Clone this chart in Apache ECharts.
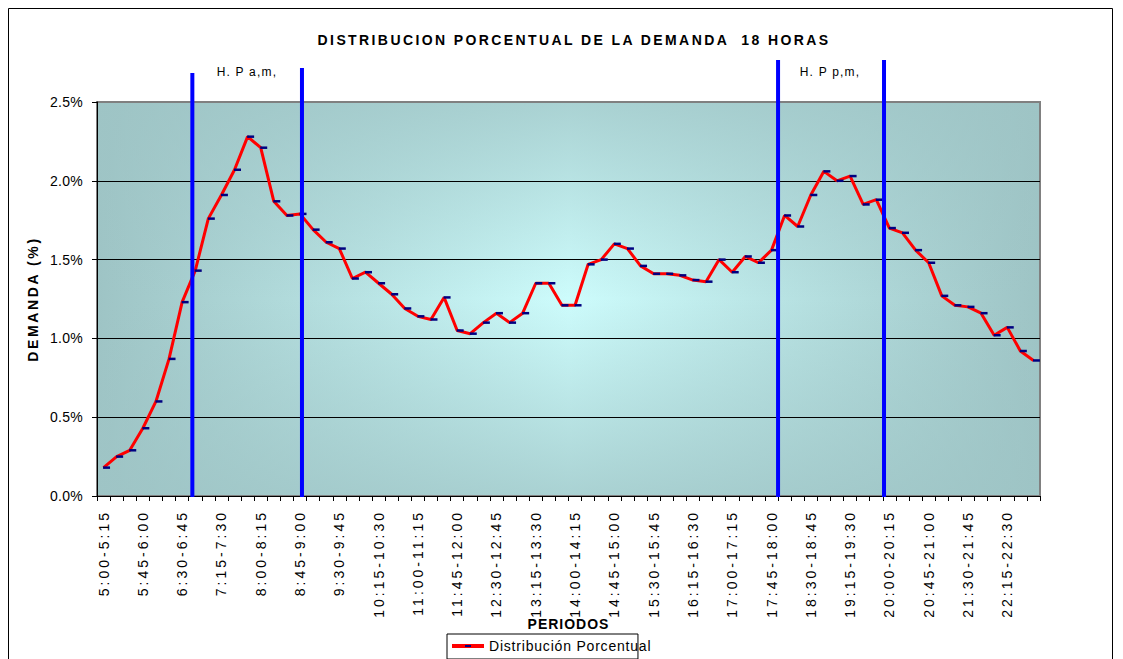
<!DOCTYPE html>
<html><head><meta charset="utf-8">
<script src="https://cdn.jsdelivr.net/npm/echarts@6/dist/echarts.min.js"></script>
<style>html,body{margin:0;padding:0;background:#fff}#c{width:1123px;height:659px}</style>
</head><body><div id="c"></div>
<script>
const titleText = 'DISTRIBUCION PORCENTUAL DE LA DEMANDA  18 HORAS';
const xName = 'PERIODOS';
const yName = 'DEMANDA (%)';
const seriesName = 'Distribución Porcentual';

const categories = [
 '5:00-5:15','5:15-5:30','5:30-5:45','5:45-6:00','6:00-6:15','6:15-6:30','6:30-6:45','6:45-7:00',
 '7:00-7:15','7:15-7:30','7:30-7:45','7:45-8:00','8:00-8:15','8:15-8:30','8:30-8:45','8:45-9:00',
 '9:00-9:15','9:15-9:30','9:30-9:45','9:45-10:00','10:00-10:15','10:15-10:30','10:30-10:45','10:45-11:00',
 '11:00-11:15','11:15-11:30','11:30-11:45','11:45-12:00','12:00-12:15','12:15-12:30','12:30-12:45','12:45-13:00',
 '13:00-13:15','13:15-13:30','13:30-13:45','13:45-14:00','14:00-14:15','14:15-14:30','14:30-14:45','14:45-15:00',
 '15:00-15:15','15:15-15:30','15:30-15:45','15:45-16:00','16:00-16:15','16:15-16:30','16:30-16:45','16:45-17:00',
 '17:00-17:15','17:15-17:30','17:30-17:45','17:45-18:00','18:00-18:15','18:15-18:30','18:30-18:45','18:45-19:00',
 '19:00-19:15','19:15-19:30','19:30-19:45','19:45-20:00','20:00-20:15','20:15-20:30','20:30-20:45','20:45-21:00',
 '21:00-21:15','21:15-21:30','21:30-21:45','21:45-22:00','22:00-22:15','22:15-22:30','22:30-22:45','22:45-23:00'
];

const demanda = [
 0.18,0.25,0.29,0.43,0.60,0.87,1.23,1.43,
 1.76,1.91,2.07,2.28,2.21,1.87,1.78,1.79,
 1.69,1.61,1.57,1.38,1.42,1.35,1.28,1.19,
 1.14,1.12,1.26,1.05,1.03,1.10,1.16,1.10,
 1.16,1.35,1.35,1.21,1.21,1.47,1.50,1.60,
 1.57,1.46,1.41,1.41,1.40,1.37,1.36,1.50,
 1.42,1.52,1.48,1.56,1.78,1.71,1.91,2.06,
 2.00,2.03,1.85,1.88,1.70,1.67,1.56,1.48,
 1.27,1.21,1.20,1.16,1.02,1.07,0.92,0.86
];

// peak-hour markers (position in category units, top in %)
const peakLineX = [7.28, 15.65, 52.0, 60.09];
const peakLineTop = [2.684, 2.716, 2.766, 2.766];
const peakLabels = ['H. P a,m,', 'H. P p,m,'];
const peakLabelX = [11.45, 55.97];
const peakLabelY = [2.69, 2.69];

const yMin = 0, yMax = 2.5, yStep = 0.5;

const FONT = "'Liberation Sans', Arial, sans-serif";
const dark = '#9ec4c5', light = '#cdfcfc';

const chart = echarts.init(document.getElementById('c'), null, {renderer: 'svg'});

const legendIcon = 'image://data:image/svg+xml;utf8,' + encodeURIComponent(
  "<svg xmlns='http://www.w3.org/2000/svg' width='32' height='6'><rect x='0' y='1' width='32' height='4' fill='#ff0000'/><rect x='13' y='2' width='6' height='2' fill='#000080'/></svg>");

chart.setOption({
  animation: false,
  textStyle: {fontFamily: FONT, color: '#000'},
  title: {
    text: titleText, left: 574, top: 33, padding: 0, textAlign: 'center',
    textStyle: {fontFamily: FONT, fontSize: 14, fontWeight: 'bold', color: '#000'}
  },
  graphic: [{
    type: 'rect', left: 8, top: 8, z: -10, silent: true,
    shape: {width: 1104, height: 700},
    style: {fill: '#fff', stroke: '#000', lineWidth: 1}
  }],
  legend: {
    left: 447, top: 634, padding: [5, 5, 6, 5],
    backgroundColor: '#fff', borderColor: '#000', borderWidth: 1,
    itemWidth: 32, itemHeight: 6, itemGap: 4,
    data: [{name: seriesName, icon: legendIcon}],
    textStyle: {fontFamily: FONT, fontSize: 14, color: '#000', padding: [0, 0, 0, 0]}
  },
  grid: [
    {left: 97, top: 102, width: 943, height: 394, show: true, borderWidth: 0,
     backgroundColor: {type: 'linear', x: 0, y: 0, x2: 1, y2: 0,
       colorStops: [{offset: 0, color: dark}, {offset: 0.5, color: light}, {offset: 1, color: dark}]}},
    {left: 97, top: 102, width: 943, height: 394, show: true, borderColor: '#808080', borderWidth: 2,
     backgroundColor: {type: 'linear', x: 0, y: 0, x2: 0, y2: 1,
       colorStops: [{offset: 0, color: 'rgba(158,196,197,0.75)'}, {offset: 0.5, color: 'rgba(158,196,197,0)'}, {offset: 1, color: 'rgba(158,196,197,0.75)'}]}}
  ],
  xAxis: [{
    type: 'category', gridIndex: 0, data: categories, boundaryGap: true,
    name: xName, nameLocation: 'middle', nameGap: 121,
    nameTextStyle: {fontFamily: FONT, fontSize: 14, fontWeight: 'bold', color: '#000', lineHeight: 14},
    axisLine: {lineStyle: {color: '#000', width: 1}},
    axisTick: {show: true, interval: 0, length: 5, lineStyle: {color: '#000'}},
    axisLabel: {interval: 2, rotate: 90, margin: 14, fontSize: 14, color: '#000', fontFamily: FONT},
    splitLine: {show: false}
  }, {
    type: 'value', gridIndex: 1, min: 0, max: categories.length, show: false
  }],
  yAxis: [{
    type: 'value', gridIndex: 0, min: yMin, max: yMax, interval: yStep,
    name: yName, nameLocation: 'middle', nameGap: 57, nameRotate: 90,
    nameTextStyle: {fontFamily: FONT, fontSize: 14, fontWeight: 'bold', color: '#000'},
    axisLine: {show: true, lineStyle: {color: '#000', width: 1}},
    axisTick: {show: true, length: 5, lineStyle: {color: '#000'}},
    axisLabel: {margin: 14, fontSize: 14, color: '#000', fontFamily: FONT,
      formatter: v => v.toFixed(1) + '%'},
    splitLine: {show: true, showMaxLine: false, lineStyle: {color: '#000', width: 1}}
  }, {
    type: 'value', gridIndex: 1, min: yMin, max: yMax, show: false
  }],
  series: [{
    name: seriesName, type: 'line', xAxisIndex: 0, yAxisIndex: 0, data: demanda,
    lineStyle: {color: '#ff0000', width: 3},
    itemStyle: {color: '#000080', borderWidth: 0},
    symbol: 'rect', symbolSize: [7, 2.5], symbolOffset: [3, 0], showAllSymbol: true,
    z: 3
  }, {
    type: 'custom', xAxisIndex: 1, yAxisIndex: 1, clip: false, z: 5, silent: true,
    data: peakLineX.map((x, i) => [x, peakLineTop[i]]),
    renderItem: (params, api) => {
      const p0 = api.coord([api.value(0), 0]);
      const p1 = api.coord([api.value(0), api.value(1)]);
      return {type: 'line', shape: {x1: p0[0], y1: p0[1] + 1, x2: p1[0], y2: p1[1]},
              style: {stroke: '#0000ff', lineWidth: 4}};
    }
  }, {
    type: 'custom', xAxisIndex: 1, yAxisIndex: 1, clip: false, z: 5, silent: true,
    data: peakLabels.map((t, i) => [peakLabelX[i], peakLabelY[i], t]),
    renderItem: (params, api) => {
      const p = api.coord([api.value(0), api.value(1)]);
      return {type: 'text', x: p[0], y: p[1],
              style: {text: peakLabels[params.dataIndex], fontSize: 12, fontFamily: FONT,
                      fill: '#000', align: 'center', verticalAlign: 'middle'}};
    }
  }]
});

function spacingFor(t) {
  if (t === titleText) return 2.4;
  if (t.indexOf('H. P') === 0) return 1.2;
  if (t === yName) return 2.6;
  if (t === xName) return 1;
  if (t === seriesName) return 0.8;
  if (/^\d+:\d+-\d+:\d+$/.test(t)) return 3;
  if (/%$/.test(t)) return 0.3;
  return 0;
}
function applySpacing() {
  chart.getDom().querySelectorAll('svg text').forEach(el => {
    const s = spacingFor((el.textContent || '').trim());
    if (s) { el.setAttribute('letter-spacing', s + 'px'); el.style.letterSpacing = s + 'px'; }
  });
}
chart.on('finished', applySpacing);
applySpacing();
setTimeout(applySpacing, 50);
</script>
</body></html>
